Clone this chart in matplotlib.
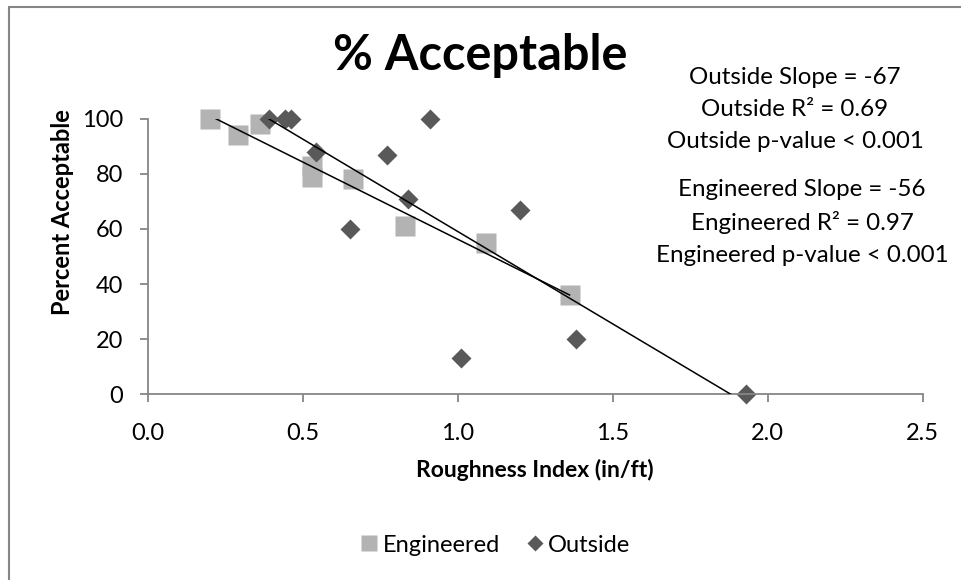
import matplotlib
matplotlib.use('Agg')
import matplotlib.pyplot as plt
from matplotlib.patches import Rectangle
import numpy as np

# roughness index (in/ft) vs percent acceptable
eng_x = [0.20, 0.29, 0.36, 0.53, 0.53, 0.66, 0.83, 1.09, 1.36]
eng_y = [100, 94, 98, 83, 79, 78, 61, 55, 36]
out_x = [0.39, 0.44, 0.46, 0.54, 0.65, 0.77, 0.84, 0.91, 1.01, 1.20, 1.38, 1.93]
out_y = [100, 100, 100, 88, 60, 87, 71, 100, 13, 67, 20, 0]

# trendlines
eng_slope, eng_icpt = -56, 112.2
out_slope, out_icpt = -67, 126.0

out_stats = ['Outside Slope = -67', 'Outside R\u00b2 = 0.69', 'Outside p-value < 0.001']
eng_stats = ['Engineered Slope = -56', 'Engineered R\u00b2 = 0.97', 'Engineered p-value < 0.001']

xticks = [0.0, 0.5, 1.0, 1.5, 2.0, 2.5]
yticks = [0, 20, 40, 60, 80, 100]

W, H = 961, 580
plt.rcParams['font.family'] = ['Lato', 'DejaVu Sans']

fig = plt.figure(figsize=(W / 100, H / 100), dpi=100)


def px(x, y):
    return x / W, 1 - y / H


ax = fig.add_axes([148.3 / W, 1 - 394.3 / H, (922.7 - 148.3) / W, (394.3 - 118.7) / H])

axis_grey = '#868686'
sq_col = '#b3b3b3'
dm_col = '#595959'

# fit lines over each series' x range (clipped at y=0 by the axes)
xe = np.array([min(eng_x), max(eng_x)])
xo = np.array([min(out_x), max(out_x)])
ax.plot(xe, eng_icpt + eng_slope * xe, color='black', lw=1.1, zorder=3)
ax.plot(xo, out_icpt + out_slope * xo, color='black', lw=1.1, zorder=3)

ax.plot(eng_x, eng_y, 's', ms=14, color=sq_col, mec='none', clip_on=False, zorder=2,
        label='Engineered')
ax.plot(out_x, out_y, 'D', ms=10, color=dm_col, mec='none', clip_on=False, zorder=2,
        label='Outside')

ax.set_xlim(0, 2.5)
ax.set_ylim(0, 100)
ax.set_xticks(xticks)
ax.set_xticklabels(['%.1f' % t for t in xticks])
ax.set_yticks(yticks)

for s in ['top', 'right']:
    ax.spines[s].set_visible(False)
for s in ['left', 'bottom']:
    ax.spines[s].set_color(axis_grey)
    ax.spines[s].set_linewidth(1.3)
ax.tick_params(colors=axis_grey, length=6, width=1.3, labelcolor='black', labelsize=17)
ax.tick_params(axis='x', pad=15)
ax.tick_params(axis='y', pad=12)

fig.text(*px(480, 55), '% Acceptable', ha='center', va='center', fontsize=35,
         fontweight='bold')
fig.text(*px(62, 212), 'Percent Acceptable', ha='center', va='center', rotation=90,
         fontsize=17, fontweight='bold')
fig.text(*px(535, 470), 'Roughness Index (in/ft)', ha='center', va='center',
         fontsize=16.5, fontweight='bold')

for i, s in enumerate(out_stats):
    fig.text(*px(795, 77 + 32.5 * i), s, ha='center', va='center', fontsize=17.4)
for i, s in enumerate(eng_stats):
    fig.text(*px(802, 190 + 32.5 * i), s, ha='center', va='center', fontsize=17.4)

fig.legend(loc='center', bbox_to_anchor=px(494, 545), ncol=2, frameon=False,
           fontsize=17, handletextpad=0.05, columnspacing=1.0, handlelength=1.0,
           markerscale=0.85)

# chart area border
fig.add_artist(Rectangle((8.5 / W, -1), 2, 2 - 6.5 / H, transform=fig.transFigure,
                         fill=False, ec=axis_grey, lw=1.5))

fig.savefig('out.png', dpi=100)
